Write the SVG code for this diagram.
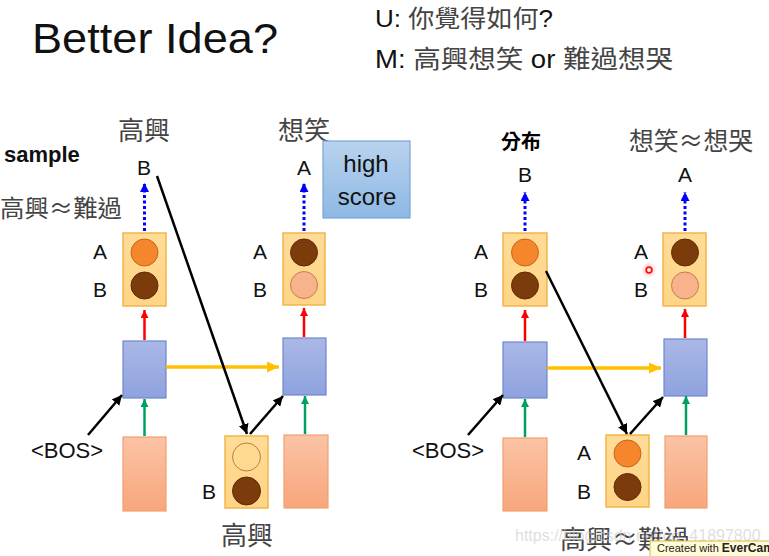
<svg xmlns="http://www.w3.org/2000/svg" width="769" height="556" viewBox="0 0 769 556">
<defs>
<linearGradient id="gBlue" x1="0" y1="0" x2="0" y2="1"><stop offset="0" stop-color="#aab8e6"/><stop offset="1" stop-color="#8fa2de"/></linearGradient>
<linearGradient id="gPink" x1="0" y1="0" x2="0" y2="1"><stop offset="0" stop-color="#fbc3a5"/><stop offset="1" stop-color="#f8a67c"/></linearGradient>
<linearGradient id="gYel" x1="0" y1="0" x2="0" y2="1"><stop offset="0" stop-color="#ffdc96"/><stop offset="1" stop-color="#ffd486"/></linearGradient>
<linearGradient id="gHigh" x1="0" y1="0" x2="0" y2="1"><stop offset="0" stop-color="#b9d3ee"/><stop offset="1" stop-color="#8db8e4"/></linearGradient>
<radialGradient id="gGlow"><stop offset="0" stop-color="#ff6060" stop-opacity="0.5"/><stop offset="1" stop-color="#ff6060" stop-opacity="0"/></radialGradient>
<marker id="mBlack" markerUnits="userSpaceOnUse" markerWidth="11" markerHeight="10" refX="10" refY="5" orient="auto"><path d="M0,0 L10,5 L0,10 z" fill="#000"/></marker>
<marker id="mRed" markerUnits="userSpaceOnUse" markerWidth="8" markerHeight="8" refX="8" refY="4" orient="auto"><path d="M0,0 L8,4 L0,8 z" fill="#ff0000"/></marker>
<marker id="mGreen" markerUnits="userSpaceOnUse" markerWidth="8" markerHeight="8" refX="8" refY="4" orient="auto"><path d="M0,0 L8,4 L0,8 z" fill="#00a060"/></marker>
<marker id="mYel" markerUnits="userSpaceOnUse" markerWidth="12" markerHeight="11" refX="12" refY="5.5" orient="auto"><path d="M0,0 L12,5.5 L0,11 z" fill="#ffc000"/></marker>
<marker id="mBlue" markerUnits="userSpaceOnUse" markerWidth="9" markerHeight="9" refX="9" refY="4.5" orient="auto"><path d="M0,0 L9,4.5 L0,9 z" fill="#0000ff"/></marker>
</defs>
<style>
.lat{font-family:"Liberation Sans","Noto Sans CJK TC",sans-serif;fill:#111}
.cjk{font-family:"Noto Sans CJK TC","Noto Sans CJK SC",sans-serif;fill:#444}
.lbl{font-family:"Liberation Sans",sans-serif;font-size:21px;fill:#111;text-anchor:middle}
.ybox{fill:url(#gYel);stroke:#f2b54a;stroke-width:1.5}
.bbox{fill:url(#gBlue);stroke:#6f86cf;stroke-width:1.2}
.pbox{fill:url(#gPink);stroke:#f0a070;stroke-width:1.2}
.cOr{fill:#f5862c;stroke:#c4651c;stroke-width:1}
.cDk{fill:#7c3b0b;stroke:#5e2c06;stroke-width:1}
.cLt{fill:#f8b28c;stroke:#c0804a;stroke-width:1}
.cNo{fill:#ffd98f;stroke:#b88040;stroke-width:1}
.kb{stroke:#000;stroke-width:2.5;fill:none;marker-end:url(#mBlack)}
.kr{stroke:#ff0000;stroke-width:2.5;fill:none;marker-end:url(#mRed)}
.kg{stroke:#00a060;stroke-width:2.5;fill:none;marker-end:url(#mGreen)}
.ky{stroke:#ffc000;stroke-width:3.5;fill:none;marker-end:url(#mYel)}
.kd{stroke:#0000ff;stroke-width:3;stroke-dasharray:3 2.5;fill:none;marker-end:url(#mBlue)}
</style>
<rect width="769" height="556" fill="#fff"/>

<g id="header">
<text class="lat" x="32" y="53" font-size="43" textLength="246" lengthAdjust="spacingAndGlyphs">Better Idea?</text>
<text x="375" y="27" font-size="24" textLength="178" lengthAdjust="spacingAndGlyphs"><tspan class="lat">U: </tspan><tspan class="cjk">你覺得如何</tspan><tspan class="lat">?</tspan></text>
<text x="375" y="68" font-size="25" textLength="298" lengthAdjust="spacingAndGlyphs"><tspan class="lat">M: </tspan><tspan class="cjk">高興想笑</tspan><tspan class="lat">  or </tspan><tspan class="cjk">難過想哭</tspan></text>
</g>

<g id="left-annotations">
<text class="lat" x="4" y="162" font-size="22" font-weight="bold">sample</text>
<text class="cjk" x="0" y="217" font-size="24" textLength="122" lengthAdjust="spacingAndGlyphs">高興≈難過</text>
<text class="cjk" x="144" y="140" font-size="26" text-anchor="middle">高興</text>
<text class="lbl" x="144" y="175">B</text>
<text class="cjk" x="304" y="140" font-size="26" text-anchor="middle">想笑</text>
<text class="lbl" x="304" y="175">A</text>
</g>

<g id="high-score">
<rect x="323" y="141" width="87" height="77" fill="url(#gHigh)" stroke="#7aa6d8" stroke-width="1.2"/>
<text class="lat" x="366" y="172" font-size="24" text-anchor="middle">high</text>
<text class="lat" x="367" y="205" font-size="24" text-anchor="middle">score</text>
</g>

<g id="L-out1">
<rect class="ybox" x="123" y="233" width="43" height="73"/>
<circle class="cOr" cx="144.5" cy="252.5" r="13.5"/>
<circle class="cDk" cx="144.5" cy="285.5" r="13.5"/>
<text class="lbl" x="100" y="259">A</text>
<text class="lbl" x="100" y="297">B</text>
</g>
<g id="L-out2">
<rect class="ybox" x="283" y="233" width="42" height="72"/>
<circle class="cDk" cx="304" cy="252.5" r="13.5"/>
<circle class="cLt" cx="304" cy="285" r="13.5"/>
<text class="lbl" x="260" y="259">A</text>
<text class="lbl" x="260" y="297">B</text>
</g>
<g id="L-rnn1"><rect class="bbox" x="123" y="341" width="43" height="57"/></g>
<g id="L-rnn2"><rect class="bbox" x="283" y="338" width="43" height="57"/></g>
<g id="L-in1"><rect class="pbox" x="123" y="437" width="43" height="74"/></g>
<g id="L-in2"><rect class="pbox" x="284" y="435" width="44" height="73"/></g>
<g id="L-bos"><text class="lat" x="67" y="458" font-size="22" text-anchor="middle">&lt;BOS&gt;</text></g>
<g id="L-sample">
<rect class="ybox" x="225" y="436" width="43" height="72"/>
<circle class="cNo" cx="246.5" cy="457" r="14"/>
<circle class="cDk" cx="246.5" cy="491" r="14"/>
<text class="lbl" x="209" y="499">B</text>
<text class="cjk" x="247" y="545" font-size="26" text-anchor="middle">高興</text>
</g>

<g id="right-annotations">
<text x="521" y="149" font-size="20" font-weight="bold" text-anchor="middle" font-family="'Noto Sans CJK TC','Noto Sans CJK SC',sans-serif" fill="#000">分布</text>
<text class="lbl" x="525" y="182">B</text>
<text class="cjk" x="691" y="150" font-size="25" text-anchor="middle" textLength="124" lengthAdjust="spacingAndGlyphs">想笑≈想哭</text>
<text class="lbl" x="685" y="182">A</text>
</g>
<g id="R-out1">
<rect class="ybox" x="503" y="233" width="44" height="73"/>
<circle class="cOr" cx="525" cy="252.5" r="13.5"/>
<circle class="cDk" cx="525" cy="285.5" r="13.5"/>
<text class="lbl" x="481" y="259">A</text>
<text class="lbl" x="481" y="297">B</text>
</g>
<g id="R-out2">
<rect class="ybox" x="663" y="233" width="43" height="73"/>
<circle class="cDk" cx="685" cy="252.5" r="13.5"/>
<circle class="cLt" cx="685" cy="285.5" r="13.5"/>
<text class="lbl" x="641" y="259">A</text>
<text class="lbl" x="641" y="297">B</text>
</g>
<g id="R-rnn1"><rect class="bbox" x="503" y="342" width="44" height="56"/></g>
<g id="R-rnn2"><rect class="bbox" x="664" y="339" width="43" height="57"/></g>
<g id="R-in1"><rect class="pbox" x="503" y="438" width="44" height="73"/></g>
<g id="R-in2"><rect class="pbox" x="665" y="436" width="42" height="72"/></g>
<g id="R-bos"><text class="lat" x="448" y="458" font-size="22" text-anchor="middle">&lt;BOS&gt;</text></g>
<g id="R-dist">
<rect class="ybox" x="606" y="435" width="43" height="72"/>
<circle class="cOr" cx="627.5" cy="453.5" r="13.5"/>
<circle class="cDk" cx="627.5" cy="487" r="13.5"/>
<text class="lbl" x="584" y="460">A</text>
<text class="lbl" x="584" y="499">B</text>
</g>
<g id="pointer">
<circle cx="649" cy="270" r="8" fill="url(#gGlow)"/>
<circle cx="649" cy="270" r="2.8" fill="#fff" stroke="#ff1010" stroke-width="1.8"/>
</g>

<g id="connectors">
<line class="kd" x1="144.5" y1="231" x2="144.5" y2="183"/>
<line class="kd" x1="304" y1="231" x2="304" y2="183"/>
<line class="kr" x1="144.5" y1="340" x2="144.5" y2="310"/>
<line class="kr" x1="304" y1="337" x2="304" y2="308"/>
<line class="kg" x1="144.5" y1="436" x2="144.5" y2="399"/>
<line class="kg" x1="305" y1="434" x2="305" y2="396"/>
<line class="ky" x1="166" y1="367" x2="279" y2="367"/>
<line class="kb" x1="88" y1="435" x2="122" y2="395"/>
<line class="kb" x1="157" y1="176" x2="247" y2="434"/>
<line class="kb" x1="250" y1="434" x2="283" y2="396"/>

<line class="kd" x1="525" y1="231" x2="525" y2="192"/>
<line class="kd" x1="685" y1="231" x2="685" y2="192"/>
<line class="kr" x1="525" y1="341" x2="525" y2="310"/>
<line class="kr" x1="685" y1="338" x2="685" y2="309"/>
<line class="kg" x1="525" y1="437" x2="525" y2="399"/>
<line class="kg" x1="686" y1="435" x2="686" y2="396"/>
<line class="ky" x1="547" y1="368" x2="661" y2="368"/>
<line class="kb" x1="468" y1="435" x2="503" y2="395"/>
<line class="kb" x1="546" y1="271" x2="627" y2="434"/>
<line class="kb" x1="630" y1="434" x2="663" y2="397"/>
</g>

<g id="bottom-right-label">
<text class="cjk" x="625" y="549" font-size="26" text-anchor="middle">高興≈難過</text>
</g>
<g id="watermark">
<text x="515" y="541" font-size="16" font-family="'Liberation Sans',sans-serif" fill="#c8c8c8" fill-opacity="0.6">https://blog.csdn.net/qq_41897800</text>
</g>
<g id="evercam-badge">
<rect x="650" y="541" width="125" height="18" fill="#fffbd6" stroke="#d9b84a" stroke-width="1"/>
<text x="657" y="552" font-size="11" font-family="'Liberation Sans',sans-serif" fill="#222">Created with <tspan font-weight="bold" font-size="12">EverCam</tspan></text>
</g>
</svg>
